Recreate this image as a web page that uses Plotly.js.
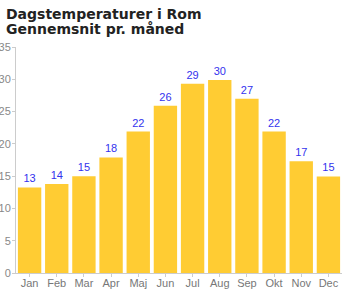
<!DOCTYPE html>
<html><head><meta charset="utf-8">
<script src="https://cdn.plot.ly/plotly-3.0.1.min.js"></script>
<style>html,body{margin:0;padding:0;background:#fff}#c{width:347px;height:291px}</style>
</head><body><div id="c"></div>
<script>
const months = ["Jan","Feb","Mar","Apr","Maj","Jun","Jul","Aug","Sep","Okt","Nov","Dec"];
const temps = [13.25, 13.8, 15.0, 17.9, 21.9, 25.9, 29.3, 29.9, 27.0, 21.9, 17.3, 14.95];
const labels = ["13","14","15","18","22","26","29","30","27","22","17","15"];
const yTicks = [0,5,10,15,20,25,30,35];
const titleLines = ["Dagstemperaturer i Rom", "Gennemsnit pr. måned"];

const T = 47, B = 273, L = 16, W = 326;
const py = p => (B - p) / (B - T);
const px = p => (p - L) / W;
const tfont = {family: 'DejaVu Sans, Verdana, sans-serif', size: 14, color: '#222', weight: 'bold'};

Plotly.newPlot('c', [{
  type: 'bar', x: months, y: temps, text: labels,
  textposition: 'outside', cliponaxis: false,
  textfont: {family: 'Liberation Sans, Arial, sans-serif', size: 11, color: '#3333ee'},
  marker: {color: '#ffcc33', line: {width: 0}},
  hoverinfo: 'none'
}], {
  width: 347, height: 291,
  margin: {l: 16, r: 5, t: 47, b: 18, pad: 0},
  paper_bgcolor: '#fff', plot_bgcolor: '#fff',
  bargap: 0.14,
  showlegend: false,
  annotations: [
    {text: titleLines[0], xref: 'paper', yref: 'paper', x: px(3.5), y: py(14.5), xanchor: 'left', yanchor: 'middle', showarrow: false, font: tfont},
    {text: titleLines[1], xref: 'paper', yref: 'paper', x: px(3.5), y: py(29.5), xanchor: 'left', yanchor: 'middle', showarrow: false, font: tfont}
  ],
  xaxis: {type: 'category', showgrid: false, showline: true, linecolor: '#ccc', linewidth: 1,
          ticks: 'outside', ticklen: 3, tickcolor: '#ccc', ticklabelstandoff: -3,
          tickfont: {family: 'Liberation Sans, Arial, sans-serif', size: 11, color: '#777'}},
  yaxis: {range: [0, 35], tickvals: yTicks, showgrid: false, zeroline: false, showline: true,
          linecolor: '#ccc', linewidth: 1, ticks: 'outside', ticklen: 3, tickcolor: '#ccc', ticklabelstandoff: -1,
          tickfont: {family: 'Liberation Sans, Arial, sans-serif', size: 11, color: '#888'}}
}, {displayModeBar: false, staticPlot: true});
</script></body></html>
